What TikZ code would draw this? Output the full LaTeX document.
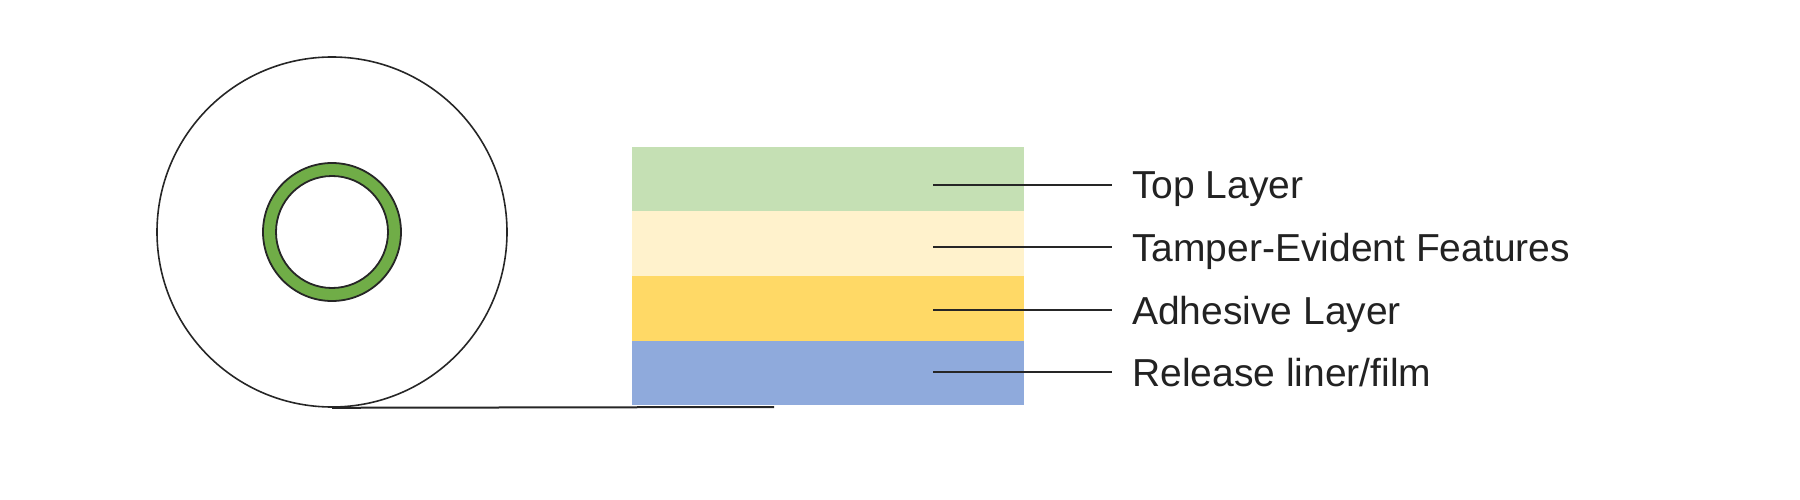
\documentclass[tikz,border=0pt]{standalone}
\usepackage{fontspec}
\setmainfont{Liberation Sans}
\definecolor{topgreen}{RGB}{197,224,180}
\definecolor{tampercream}{RGB}{255,242,204}
\definecolor{adhesiveyellow}{RGB}{255,217,102}
\definecolor{linerblue}{RGB}{143,170,220}
\definecolor{coregreen}{RGB}{112,173,71}
\definecolor{labelgray}{RGB}{34,34,34}
\begin{document}
\begin{tikzpicture}[x=1pt,y=-1pt,
    band/.style={rectangle,inner sep=0,minimum width=392pt,minimum height=64.5pt},
    layerlabel/.style={anchor=west,inner xsep=20pt,inner ysep=0,text height=28pt,text depth=0pt,
        text=labelgray,font=\fontsize{39}{44}\selectfont},
    leader/.style={line width=2pt,black!85}]
    \useasboundingbox (0,0) rectangle (1800,500);
    \node[circle,draw,line width=1.6pt,black!85,minimum size=350pt,inner sep=0] (roll) at (332,232) {};
    \draw[line width=1.8pt,black!85,fill=coregreen,even odd rule] (roll.center) circle (69) circle (56);
    \node[band,fill=topgreen] (top) at (828,179) {};
    \node[band,fill=tampercream] (tamper) at (828,243.5) {};
    \node[band,fill=adhesiveyellow] (adhesive) at (828,308.5) {};
    \node[band,fill=linerblue] (liner) at (828,373) {};
    \coordinate (tail) at (774,407);
    \draw[leader] (roll.south) -- (tail);
    \coordinate (topend) at (933,185);
    \coordinate (tamperend) at (933,247);
    \coordinate (adhesiveend) at (933,310);
    \coordinate (linerend) at (933,372);
    \node[layerlabel] (toplabel) at (1112,185) {Top Layer};
    \node[layerlabel] (tamperlabel) at (1112,247) {Tamper-Evident Features};
    \node[layerlabel] (adhesivelabel) at (1112,310) {Adhesive Layer};
    \node[layerlabel] (linerlabel) at (1112,372) {Release liner/film};
    \draw[leader] (topend) -- (toplabel.west);
    \draw[leader] (tamperend) -- (tamperlabel.west);
    \draw[leader] (adhesiveend) -- (adhesivelabel.west);
    \draw[leader] (linerend) -- (linerlabel.west);
\end{tikzpicture}
\end{document}
